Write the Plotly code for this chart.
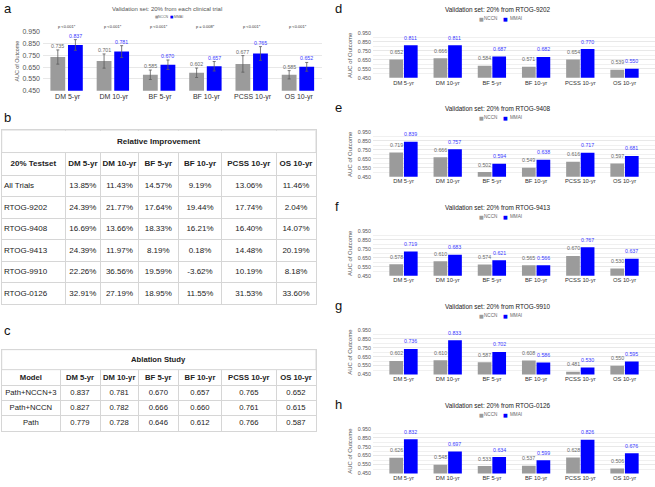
import plotly.graph_objects as go

W, H = 655, 487
FONT = "Liberation Sans, Arial, sans-serif"
GRAY = "#9b9b9b"
BLUE = "#0000ff"
LINE = "#d6d6d6"

# ---------------- data ----------------
categories = ["DM 5-yr", "DM 10-yr", "BF 5-yr", "BF 10-yr", "PCSS 10-yr", "OS 10-yr"]
series_names = ["NCCN", "MMAI"]
ytick_vals = [0.45, 0.55, 0.65, 0.75, 0.85, 0.95]
ytick_minor = [0.50, 0.60, 0.70, 0.80, 0.90]

all_nccn = [0.735, 0.701, 0.585, 0.602, 0.677, 0.585]
all_mmai = [0.837, 0.781, 0.670, 0.657, 0.765, 0.652]
all_nccn_err = [0.060, 0.060, 0.040, 0.040, 0.070, 0.035]
all_mmai_err = [0.045, 0.050, 0.040, 0.040, 0.058, 0.037]
p_values = ["p <0.001*", "p <0.001*", "p <0.001*", "p = 0.008*", "p <0.001*", "p <0.001*"]

nccn_9202 = [0.652, 0.666, 0.584, 0.571, 0.654, 0.539]
mmai_9202 = [0.811, 0.811, 0.687, 0.682, 0.770, 0.550]
nccn_9408 = [0.719, 0.666, 0.502, 0.549, 0.616, 0.597]
mmai_9408 = [0.839, 0.757, 0.594, 0.638, 0.717, 0.681]
nccn_9413 = [0.578, 0.610, 0.574, 0.565, 0.670, 0.530]
mmai_9413 = [0.719, 0.683, 0.621, 0.566, 0.767, 0.637]
nccn_9910 = [0.602, 0.610, 0.587, 0.608, 0.481, 0.550]
mmai_9910 = [0.736, 0.833, 0.702, 0.586, 0.530, 0.595]
nccn_0126 = [0.626, 0.548, 0.533, 0.537, 0.628, 0.506]
mmai_0126 = [0.832, 0.697, 0.634, 0.599, 0.826, 0.676]

trial_names = ["RTOG-9202", "RTOG-9408", "RTOG-9413", "RTOG-9910", "RTOG-0126"]

improve_rows = ["All Trials", "RTOG-9202", "RTOG-9408", "RTOG-9413", "RTOG-9910", "RTOG-0126"]
improve_dm5 = ["13.85%", "24.39%", "16.69%", "24.39%", "22.26%", "32.91%"]
improve_dm10 = ["11.43%", "21.77%", "13.66%", "11.97%", "36.56%", "27.19%"]
improve_bf5 = ["14.57%", "17.64%", "18.33%", "8.19%", "19.59%", "18.95%"]
improve_bf10 = ["9.19%", "19.44%", "16.21%", "0.18%", "-3.62%", "11.55%"]
improve_pcss10 = ["13.06%", "17.74%", "16.40%", "14.48%", "10.19%", "31.53%"]
improve_os10 = ["11.46%", "2.04%", "14.07%", "20.19%", "8.18%", "33.60%"]

ablation_models = ["Path+NCCN+3", "Path+NCCN", "Path"]
ablation_dm5 = ["0.837", "0.827", "0.779"]
ablation_dm10 = ["0.781", "0.782", "0.728"]
ablation_bf5 = ["0.670", "0.666", "0.646"]
ablation_bf10 = ["0.657", "0.660", "0.612"]
ablation_pcss10 = ["0.765", "0.761", "0.766"]
ablation_os10 = ["0.652", "0.615", "0.587"]


def xp(px):
    return px / W


def yp(py):
    return 1 - py / H


fig = go.Figure()
annotations = []
shapes = []

GEOM_A = dict(x0=43, x1=322, lo=-0.53, hi=5.5, top=28, bot=88, gray_off=-0.37, blue_off=0.01, bw=0.32,
              tick_size=7, cat_size=7, val_size=5.3, title_size=6, title_x=167, title_y=5,
              leg_y=13, leg_x=[153, 155.5, 168, 171.5], leg_sq=3.6, leg_size=3.5,
              letter_x=2, letter_y=5, ytitle_size=5.4,
              standoff=2, tstand=2, val_shift=4, minor=False, title_color="#555")


def geom_right(k):
    off = 100.4 * k
    return dict(x0=373, x1=655, lo=-0.69, hi=5.69, top=29.3 + off, bot=74.8 + off,
                gray_off=-0.32, blue_off=0.01, bw=0.31,
                tick_size=5.3, cat_size=5.8, val_size=5.3, title_size=6.4, title_x=498, title_y=6 + off,
                leg_y=15 + off, leg_x=[476.5, 481.5, 501, 508], leg_sq=5, leg_size=4.6,
                letter_x=333, letter_y=5 + off, ytitle_size=6,
                standoff=1, tstand=4, val_shift=7.5, minor=True, title_color="#222")


def add_panel(n, letter, title, nccn, mmai, g, nerr=None, merr=None, pvals=None):
    sfx = "" if n == 1 else str(n)
    xref, yref = "x" + sfx, "y" + sfx
    unit = (g["x1"] - g["x0"]) / (g["hi"] - g["lo"])
    err_n = dict(type="data", array=nerr, color="#5c5c5c", thickness=0.8, width=1.5) if nerr else dict(visible=False)
    err_m = dict(type="data", array=merr, color="#5c5c5c", thickness=0.8, width=1.5) if merr else dict(visible=False)
    fig.add_trace(go.Bar(x=categories, y=nccn, name=series_names[0], xaxis=xref, yaxis=yref, width=g["bw"],
                         offset=g["gray_off"], marker=dict(color=GRAY, line_width=0), error_y=err_n,
                         showlegend=False, hoverinfo="skip"))
    fig.add_trace(go.Bar(x=categories, y=mmai, name=series_names[1], xaxis=xref, yaxis=yref, width=g["bw"],
                         offset=g["blue_off"], marker=dict(color=BLUE, line_width=0), error_y=err_m,
                         showlegend=False, hoverinfo="skip"))
    fig.layout["xaxis" + sfx] = dict(domain=[xp(g["x0"]), xp(g["x1"])], range=[g["lo"], g["hi"]], anchor=yref,
                                      type="category", showgrid=False, zeroline=False, showline=False, ticks="",
                                      tickfont=dict(size=g["cat_size"], color="#333", family=FONT),
                                      fixedrange=True)
    yax = dict(domain=[yp(g["bot"]), yp(g["top"])], range=[0.45, 0.95], anchor=xref,
               tickvals=ytick_vals, tickformat=".3f", showgrid=True, gridcolor="#e2e2e2", gridwidth=0.8,
               zeroline=False, showline=False, ticks="", ticklabelstandoff=g["standoff"],
               tickfont=dict(size=g["tick_size"], color="#555", family=FONT),
               title=dict(text="AUC of Outcome", font=dict(size=g["ytitle_size"], color="#555", family=FONT),
                          standoff=g["tstand"]),
               fixedrange=True)
    if g["minor"]:
        yax["minor"] = dict(tickvals=ytick_minor, showgrid=True, gridcolor="#ececec", gridwidth=0.8)
    fig.layout["yaxis" + sfx] = yax

    gshift = (g["gray_off"] + g["bw"] / 2) * unit
    bshift = (g["blue_off"] + g["bw"] / 2) * unit
    for j, cat in enumerate(categories):
        annotations.append(dict(x=cat, y=nccn[j] + (nerr[j] if nerr else 0), xref=xref, yref=yref,
                                text=f"{nccn[j]:.3f}", showarrow=False, xshift=gshift, yshift=g["val_shift"],
                                yanchor="middle", font=dict(size=g["val_size"], color="#6a6a6a", family=FONT)))
        annotations.append(dict(x=cat, y=mmai[j] + (merr[j] if merr else 0), xref=xref, yref=yref,
                                text=f"{mmai[j]:.3f}", showarrow=False, xshift=bshift, yshift=g["val_shift"],
                                yanchor="middle", font=dict(size=g["val_size"], color="#3a3aff", family=FONT)))
        if pvals:
            annotations.append(dict(x=cat, y=yp(23), xref=xref, yref="paper", text=pvals[j], showarrow=False,
                                    xshift=(gshift + bshift) / 2, yanchor="middle",
                                    font=dict(size=4, color="#333", family=FONT)))
    annotations.append(dict(x=xp(g["title_x"]), y=yp(g["title_y"]), xref="paper", yref="paper", text=title,
                            showarrow=False, xanchor="center", yanchor="middle",
                            font=dict(size=g["title_size"], color=g["title_color"], family=FONT)))
    # legend: square + name for each series
    lx = g["leg_x"]
    for s, (name, col) in enumerate(zip(series_names, [GRAY, BLUE])):
        annotations.append(dict(x=xp(lx[2 * s]), y=yp(g["leg_y"]), xref="paper", yref="paper", text="■",
                                showarrow=False, xanchor="left", yanchor="middle",
                                font=dict(size=g["leg_sq"], color=col, family="DejaVu Sans")))
        annotations.append(dict(x=xp(lx[2 * s + 1]), y=yp(g["leg_y"]), xref="paper", yref="paper", text=name,
                                showarrow=False, xanchor="left", yanchor="middle",
                                font=dict(size=g["leg_size"], color="#666", family=FONT)))
    annotations.append(dict(x=xp(g["letter_x"]), y=yp(g["letter_y"]), xref="paper", yref="paper", text=letter,
                            showarrow=False, xanchor="left", yanchor="middle",
                            font=dict(size=13, color="#111", family=FONT)))


add_panel(1, "a", "Validation set: 20% from each clinical trial", all_nccn, all_mmai, GEOM_A,
          all_nccn_err, all_mmai_err, p_values)
right_data = [(nccn_9202, mmai_9202), (nccn_9408, mmai_9408), (nccn_9413, mmai_9413),
              (nccn_9910, mmai_9910), (nccn_0126, mmai_0126)]
for k, (nc, mm) in enumerate(right_data):
    add_panel(k + 2, "defgh"[k], f"Validation set: 20% from {trial_names[k]}", nc, mm, geom_right(k))


def cumsum(vals):
    out, s = [0], 0
    for v in vals:
        s += v
        out.append(s)
    return out


def add_table(n, title, header, columns, widths, x0, top, title_h, header_h, row_h, fsize, left_first):
    sfx = str(n)
    xref, yref = "x" + sfx, "y" + sfx
    nrows = len(columns[0])
    heights = [title_h, header_h] + [row_h] * nrows
    xb = cumsum(widths)
    yb = cumsum(heights)
    tw, th = xb[-1], yb[-1]
    ax_common = dict(showgrid=True, gridcolor=LINE, gridwidth=1, zeroline=False, showline=True, mirror=True,
                     linecolor=LINE, linewidth=1, showticklabels=False, ticks="", fixedrange=True)
    fig.layout["xaxis" + sfx] = dict(domain=[xp(x0), xp(x0 + tw)], range=[0, tw], anchor=yref,
                                      tickvals=xb[1:-1], **ax_common)
    fig.layout["yaxis" + sfx] = dict(domain=[yp(top + th), yp(top)], range=[th, 0], anchor=xref,
                                      tickvals=yb[1:-1], **ax_common)
    # title row spans all columns
    shapes.append(dict(type="rect", xref=xref, yref=yref, x0=0, x1=tw, y0=0, y1=title_h,
                       fillcolor="white", line=dict(color=LINE, width=1), layer="above"))
    annotations.append(dict(x=tw / 2, y=title_h / 2, xref=xref, yref=yref, text=f"<b>{title}</b>",
                            showarrow=False, xanchor="center", yanchor="middle",
                            font=dict(size=fsize, color="#222", family=FONT)))
    tfont = dict(size=fsize, color="#222", family=FONT)
    centers = [(xb[i] + xb[i + 1]) / 2 for i in range(len(widths))]
    fig.add_trace(go.Scatter(x=centers, y=[yb[1] + header_h / 2] * len(header), mode="text",
                             text=[f"<b>{h}</b>" for h in header], textposition="middle center",
                             textfont=tfont, xaxis=xref, yaxis=yref, showlegend=False, hoverinfo="skip"))
    row_y = [(yb[2 + r] + yb[3 + r]) / 2 for r in range(nrows)]
    for ci, col in enumerate(columns):
        if ci == 0 and left_first:
            fig.add_trace(go.Scatter(x=[xb[0] + 2.2] * nrows, y=row_y, mode="text", text=col,
                                     textposition="middle right", textfont=tfont, xaxis=xref, yaxis=yref,
                                     showlegend=False, hoverinfo="skip"))
        else:
            fig.add_trace(go.Scatter(x=[centers[ci]] * nrows, y=row_y, mode="text", text=col,
                                     textposition="middle center", textfont=tfont, xaxis=xref, yaxis=yref,
                                     showlegend=False, hoverinfo="skip"))


add_table(7, "Relative Improvement", ["20% Testset"] + categories,
          [improve_rows, improve_dm5, improve_dm10, improve_bf5, improve_bf10, improve_pcss10, improve_os10],
          [63.3, 35.7, 37.6, 40, 43.4, 54.3, 40], 1.7, 128.3, 22.4, 23.3, 21.8, 8, True)
add_table(8, "Ablation Study", ["Model"] + categories,
          [ablation_models, ablation_dm5, ablation_dm10, ablation_bf5, ablation_bf10, ablation_pcss10,
           ablation_os10],
          [58.3, 40, 38.3, 40, 43.4, 54.3, 40], 1.7, 350.7, 20.3, 16.3, 15.2, 7.7, False)

annotations.append(dict(x=xp(2), y=yp(115), xref="paper", yref="paper", text="b", showarrow=False,
                        xanchor="left", yanchor="middle", font=dict(size=13, color="#111", family=FONT)))
annotations.append(dict(x=xp(2), y=yp(331), xref="paper", yref="paper", text="c", showarrow=False,
                        xanchor="left", yanchor="middle", font=dict(size=13, color="#111", family=FONT)))

fig.update_layout(width=W, height=H, margin=dict(l=0, r=0, t=0, b=0), paper_bgcolor="white",
                  plot_bgcolor="white", barmode="overlay", showlegend=False, annotations=annotations,
                  shapes=shapes, font=dict(family=FONT), hovermode=False)
fig.write_html("out.html", config={"displayModeBar": False, "staticPlot": True},
               post_script="document.body.style.margin='0';document.body.style.padding='0';")
